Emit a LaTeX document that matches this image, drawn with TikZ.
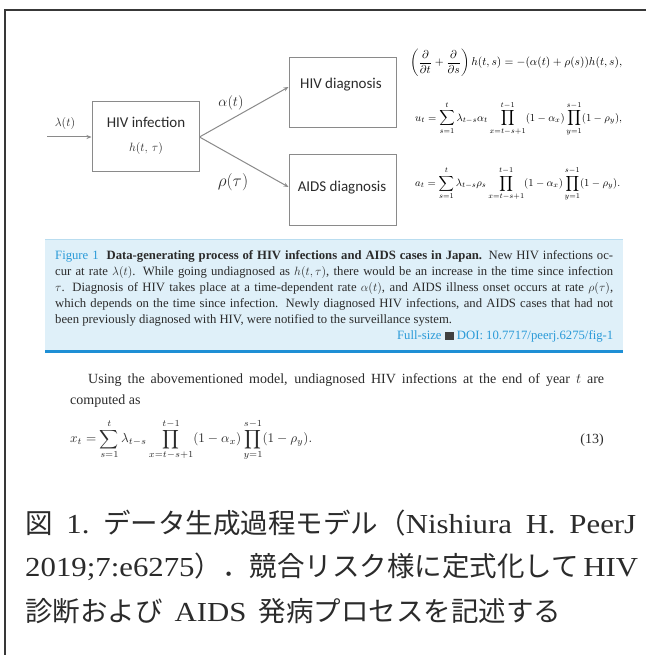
\documentclass[tikz,border=0pt]{standalone}
\usepackage{graphicx}
\usepackage{amsmath}
\usepackage{fontspec}
\setmainfont{Liberation Serif}
\newfontfamily\jp{Noto Sans CJK JP}
\newfontfamily\carl{Carlito}
\usetikzlibrary{arrows.meta,calc}
\definecolor{figblue}{HTML}{2A9AD8}
\definecolor{capbg}{HTML}{DFF0F9}
\definecolor{captop}{HTML}{B9DDF0}
\definecolor{capline}{HTML}{1E8FD5}
\definecolor{boxgray}{HTML}{8A8A8A}
\definecolor{framegray}{HTML}{383838}
\definecolor{txtgray}{HTML}{2B2B2B}
\newcommand\latw[1]{\scalebox{1.12}[1]{#1}}
\tikzset{
  procbox/.style={draw=boxgray, line width=1pt, minimum width=107pt, minimum height=70pt, inner sep=0pt},
  boxtext/.style={font=\carl\fontsize{15}{18}\selectfont, text=txtgray, inner sep=0pt},
  arr/.style={draw=boxgray, line width=1pt, -{Stealth[length=5pt,width=4pt]}},
  ratelabel/.style={text=txtgray, inner sep=0pt},
  eqnode/.style={anchor=west, inner sep=0pt},
  bodytext/.style={anchor=base west, inner sep=0pt, text=txtgray, font=\fontsize{14}{17}\selectfont},
  jpline/.style={anchor=base west, inner sep=0pt, text=txtgray, font=\fontsize{27.5}{28}\selectfont},
}
\begin{document}
\begin{tikzpicture}[x=1pt,y=-1pt]
\useasboundingbox (0,0) rectangle (646,655);
\fill[white] (0,0) rectangle (646,655);
% frame
\coordinate (fbl) at (5,655);
\coordinate (ftl) at (5,10.5);
\coordinate (ftr) at (646,10.5);
\draw[framegray, line width=2pt] (fbl) -- (ftl) -- (ftr);

% diagram
\node[procbox] (inf) at (145.5,137) {};
\node[boxtext, align=center] (inft) at (146,136) {HIV infection\\[6pt]{\fontsize{12}{14}\selectfont$h(t,\,\tau)$}};
\node[procbox] (hd) at (342.5,93) {};
\node[boxtext] (hdt) at (341,85) {HIV diagnosis};
\node[procbox] (ad) at (342.5,190) {};
\node[boxtext] (adt) at (342,188) {AIDS diagnosis};
\coordinate (inp) at (47,137);
\draw[arr] (inp) -- (inf.west);
\draw[arr] (inf.east) -- ([yshift=6pt]hd.west);
\draw[arr] (inf.east) -- ([yshift=3pt]ad.west);
\node[ratelabel, font=\fontsize{12.5}{14}\selectfont] (lam) at (65,124) {$\lambda(t)$};
\node[ratelabel, font=\fontsize{14}{16}\selectfont] (alp) at (231,103) {$\alpha(t)$};
\node[ratelabel, font=\fontsize{17}{19}\selectfont] (rho) at (233,182) {$\rho(\tau)$};

% equations right
\node[eqnode] (eq1) at (410,63) {\resizebox{212pt}{!}{$\displaystyle \left(\frac{\partial}{\partial t}+\frac{\partial}{\partial s}\right)h(t,s)=-(\alpha(t)+\rho(s))h(t,s),$}};
\node[eqnode] (eq2) at (415,119) {\resizebox{207pt}{!}{$\displaystyle u_t=\sum_{s=1}^{t}\lambda_{t-s}\alpha_t\prod_{x=t-s+1}^{t-1}(1-\alpha_x)\prod_{y=1}^{s-1}(1-\rho_y),$}};
\node[eqnode] (eq3) at (415,184) {\resizebox{205pt}{!}{$\displaystyle a_t=\sum_{s=1}^{t}\lambda_{t-s}\rho_s\prod_{x=t-s+1}^{t-1}(1-\alpha_x)\prod_{y=1}^{s-1}(1-\rho_y).$}};

% caption box
\node[fill=capbg, minimum width=578pt, minimum height=112pt, inner sep=0pt, anchor=north west] (cap) at (45,239) {};
\draw[captop, line width=1pt] (cap.north west) -- (cap.north east);
\draw[capline, line width=2.2pt] (cap.south west) -- (cap.south east);
\node[anchor=base west, inner sep=0pt, text width=558pt, align=justify, text=txtgray, font=\fontsize{12.7}{16}\selectfont] (captext) at (55,259) {{\color{figblue}Figure 1}\hspace{8pt}\textbf{Data-generating process of HIV infections and AIDS cases in Japan.} New HIV infections oc-\linebreak
cur at rate $\lambda(t)$. While going undiagnosed as $h(t,\tau)$, there would be an increase in the time since infection\linebreak
$\tau$. Diagnosis of HIV takes place at a time-dependent rate $\alpha(t)$, and AIDS illness onset occurs at rate $\rho(\tau)$,\linebreak
which depends on the time since infection. Newly diagnosed HIV infections, and AIDS cases that had not\linebreak
been previously diagnosed with HIV, were notified to the surveillance system.\\
\hspace*{\fill}{\color{figblue}Full-size \textcolor{darkgray}{\rule[-0.5pt]{9pt}{8pt}} DOI: 10.7717/peerj.6275/fig-1}};

% body text
\node[bodytext] (body1) at (88,383) {\makebox[516pt][s]{Using the abovementioned model, undiagnosed HIV infections at the end of year $t$ are}};
\node[bodytext] (body2) at (70,404) {computed as};
\node[eqnode, text=txtgray] (eq13) at (70,440) {\resizebox{242pt}{!}{$\displaystyle x_t=\sum_{s=1}^{t}\lambda_{t-s}\prod_{x=t-s+1}^{t-1}(1-\alpha_x)\prod_{y=1}^{s-1}(1-\rho_y).$}};
\node[anchor=east, inner sep=0pt, text=txtgray, font=\fontsize{14}{17}\selectfont] (eqno) at (604,440) {(13)};

% Japanese caption
\node[jpline] (jp1) at (25,533) {\makebox[611pt][s]{{\jp 図}\ \latw{1.}\ {\jp データ生成過程モデル（}\latw{Nishiura}\ \latw{H.}\ \latw{PeerJ}}};
\node[jpline] (jp2) at (25,576) {\makebox[611pt][s]{\latw{2019;7:e6275}{\jp ）．競合リスク様に定式化して}\ \latw{HIV}}};
\node[jpline] (jp3) at (25,621) {{\jp 診断および}\hspace{12pt}\latw{AIDS}\hspace{12pt}{\jp 発病プロセスを記述する}};
\end{tikzpicture}
\end{document}
